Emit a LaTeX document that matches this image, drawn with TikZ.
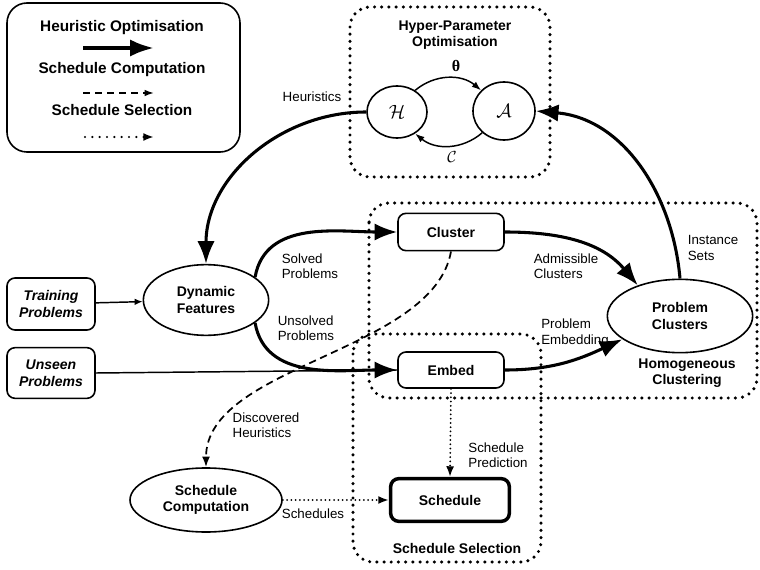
\documentclass[tikz,border=0pt]{standalone}
\usepackage{fontspec}
\setmainfont{Liberation Sans}
\newfontfamily\greekserif{Liberation Serif}
\usepackage{amsmath}
\usetikzlibrary{arrows.meta,shapes.geometric}

\begin{document}
\begin{tikzpicture}[x=0.75pt,y=-0.75pt,
    every node/.style={font=\fontsize{10}{11.5}\selectfont},
    box/.style={draw,fill=white,line width=1.2pt,rounded corners=6pt,align=center,
        inner sep=0pt,font=\fontsize{10.5}{12.5}\selectfont\bfseries},
    oval/.style={draw,fill=white,ellipse,line width=1.2pt,align=center,inner sep=0pt,
        font=\fontsize{10.5}{12.5}\selectfont\bfseries},
    region/.style={line width=2.6pt,line cap=round,dash pattern=on 0pt off 5.4pt,rounded corners=15pt},
    title/.style={align=center,font=\fontsize{10.5}{12.5}\selectfont\bfseries},
    heavy/.style={line width=2.3pt,-{Latex[length=17pt,width=13pt]}},
    thin/.style={line width=1.1pt,-{Latex[length=6pt,width=5pt]}},
    dashline/.style={line width=1.3pt,dash pattern=on 5.5pt off 3.5pt,-{Latex[length=8pt,width=6pt]}},
    dotline/.style={line width=1.5pt,line cap=round,dash pattern=on 0pt off 3.2pt,-{Latex[length=8pt,width=6pt]}},
    lbl/.style={align=left,inner sep=0pt}]
    \useasboundingbox (0,0) rectangle (760,570);

    % legend
    \draw [line width=1.2pt,rounded corners=15pt] (7,3) rectangle (240,152);
    \node [font=\fontsize{11.5}{13}\selectfont\bfseries] (lgopt) at (122,28) {Heuristic Optimisation};
    \node [font=\fontsize{11.5}{13}\selectfont\bfseries] (lgcomp) at (122,70) {Schedule Computation};
    \node [font=\fontsize{11.5}{13}\selectfont\bfseries] (lgsel) at (122,110) {Schedule Selection};
    \coordinate (la1) at (83,48);  \coordinate (lb1) at (154,48);
    \coordinate (la2) at (83,93);  \coordinate (lb2) at (154,93);
    \coordinate (la3) at (85,137); \coordinate (lb3) at (154,137);
    \draw [line width=3pt,-{Latex[length=18pt,width=13pt]}] (la1) -- (lb1);
    \draw [dashline,-{Latex[length=7pt,width=5pt]}] (la2) -- (lb2);
    \draw [dotline,line width=1.8pt,dash pattern=on 0pt off 5.5pt,-{Latex[length=8pt,width=6pt]}] (la3) -- (lb3);

    % regions
    \draw [region] (350,7) rectangle (550,177);
    \draw [region] (369,203) rectangle (757,398);
    \draw [region] (353,334) rectangle (541,562);
    \node [title] (thpo) at (455,35) {Hyper-Parameter\\Optimisation};
    \node [title] (thc) at (687,373) {Homogeneous\\Clustering};
    \node [title] (tss) at (457,548) {Schedule Selection};

    % nodes
    \node [oval,minimum width=45pt,minimum height=39pt,font=\Large] (H) at (397,112) {$\mathcal{H}$};
    \node [oval,minimum width=46.5pt,minimum height=43.5pt,font=\Large] (A) at (504,111) {$\mathcal{A}$};
    \node [box,minimum width=66pt,minimum height=39pt,font=\fontsize{10.5}{12.5}\selectfont\bfseries\itshape] (train) at (51,304) {Training\\Problems};
    \node [box,minimum width=66pt,minimum height=38pt,font=\fontsize{10.5}{12.5}\selectfont\bfseries\itshape] (unseen) at (51,373) {Unseen\\Problems};
    \node [oval,minimum width=94pt,minimum height=53pt] (dyn) at (206,300) {Dynamic\\Features};
    \node [box,minimum width=79.5pt,minimum height=28pt] (cl) at (451,232) {Cluster};
    \node [box,minimum width=79.5pt,minimum height=27pt] (em) at (451,370) {Embed};
    \node [oval,minimum width=109pt,minimum height=55pt] (pc) at (680,316) {Problem\\Clusters};
    \node [box,line width=2.6pt,minimum width=89pt,minimum height=32pt] (sched) at (450,500) {Schedule};
    \node [oval,minimum width=114pt,minimum height=48pt] (sc) at (206,500) {Schedule\\Computation};

    % heuristic optimisation
    \draw [line width=1.1pt,-{Latex[length=7pt,width=5pt]}] (H.50) to[bend left=40] (A.138);
    \draw [line width=1.1pt,-{Latex[length=7pt,width=5pt]}] (A.-135) to[bend left=40] (H.-50);
    \node [font=\greekserif\bfseries\large] (theta) at (456,66) {θ};
    \node [font=\large] (cset) at (452,157) {$\mathcal{C}$};
    \draw [heavy] (H.west) to[out=180,in=90] (dyn.north);
    \node [lbl] (lheur) at (312,97) {Heuristics};
    \draw [heavy] (pc.north) to[out=95,in=-5] (A.east);
    \node [lbl] (linst) at (713,248) {Instance\\Sets};
    \draw [heavy] (dyn.25) to[out=80,in=180] (cl.west);
    \node [lbl] (lsolv) at (310,266) {Solved\\Problems};
    \draw [heavy] (dyn.-25) to[out=-80,in=180] (em.west);
    \node [lbl] (lunsolv) at (306,328) {Unsolved\\Problems};
    \draw [heavy] (cl.east) to[out=0,in=130] (pc.144);
    \node [lbl] (ladm) at (566,266) {Admissible\\Clusters};
    \draw [heavy] (em.east) to[out=0,in=205] (pc.202);
    \node [lbl] (lemb) at (575,333) {Problem\\Embedding};

    % inputs
    \draw [thin] (train) -- (dyn);
    \draw [line width=1.1pt] (unseen.east) -- (em.west);

    % schedule computation and selection
    \draw [dashline] (cl.south) to[out=-100,in=90,looseness=0.8] (sc.north);
    \node [lbl] (ldisc) at (266,425) {Discovered\\Heuristics};
    \draw [dotline] (em.south) -- (sched.north);
    \node [lbl] (lpred) at (498,455) {Schedule\\Prediction};
    \draw [dotline] (sc.east |- sched.west) -- (sched.west);
    \node [lbl] (lsch) at (313,514) {Schedules};
\end{tikzpicture}
\end{document}
